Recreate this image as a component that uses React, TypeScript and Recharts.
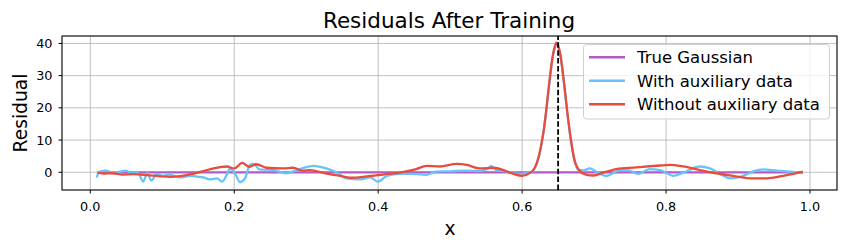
import { CartesianGrid, Line, LineChart, ReferenceLine, XAxis, YAxis } from 'recharts';

const xTicks = [0, 0.2, 0.4, 0.6, 0.8, 1.0];
const yTicks = [0, 10, 20, 30, 40];
const peakX = 0.65;

const trueX = [0.01, 0.99];
const trueY = [0, 0];

const withAuxX = [
  0.009, 0.012, 0.022, 0.03, 0.036, 0.043, 0.05, 0.057, 0.066, 0.0735, 0.079, 0.085, 0.092, 0.101, 0.11,
  0.125, 0.139, 0.15, 0.157, 0.166, 0.176, 0.183, 0.19, 0.194, 0.201, 0.208, 0.215, 0.222, 0.227, 0.235,
  0.254, 0.272, 0.291, 0.31, 0.328, 0.342, 0.356, 0.375, 0.389, 0.4, 0.412, 0.43, 0.45, 0.467, 0.48, 0.5,
  0.523, 0.54, 0.552, 0.557, 0.564, 0.578, 0.597, 0.61, 0.618, 0.623, 0.628, 0.633, 0.638, 0.643, 0.648,
  0.653, 0.658, 0.663, 0.668, 0.673, 0.678, 0.685, 0.694, 0.703, 0.717, 0.736, 0.748, 0.761, 0.777, 0.792,
  0.81, 0.824, 0.847, 0.861, 0.875, 0.889, 0.905, 0.921, 0.935, 0.954, 0.977, 0.99,
];
const withAuxY = [
  -1.6, 0.1, 0.5, 0.0, -0.1, 0.3, 0.5, -0.3, 0.0, -2.9, -0.3, -2.6, -0.5, -1.1, -0.7,
  -1.6, -1.1, -1.4, -1.6, -2.2, -1.9, -2.9, -0.6, 1.1, -0.3, -3.1, -1.9, 2.3, 2.6, 0.9,
  0.7, -0.3, 1.0, 2.0, 1.2, 0.0, -1.9, -2.2, -1.6, -2.9, -1.1, -0.5, -0.5, -0.8, 0.2, 0.3,
  0.5, 0.4, 1.0, 2.0, 0.7, 0.2, -0.5, -0.2, 1.4, 4.5, 10.0, 18.0, 28.0, 36.3, 39.6,
  36.3, 28.0, 18.0, 9.6, 3.5, 0.8, 0.6, 1.2, 0.2, -1.1, 0.7, 0.6, -0.5, 1.0, 0.7,
  -1.1, -0.1, 1.8, 1.2, -0.5, -1.9, -1.3, 0.3, 0.9, 0.5, 0.1, -0.3,
];

const withoutAuxX = [
  0.01, 0.02, 0.03, 0.045, 0.06, 0.08, 0.095, 0.111, 0.125, 0.14, 0.157, 0.17, 0.18, 0.19, 0.2,
  0.211, 0.221, 0.231, 0.245, 0.268, 0.282, 0.295, 0.305, 0.328, 0.347, 0.361, 0.384, 0.407, 0.43,
  0.453, 0.467, 0.486, 0.509, 0.523, 0.541, 0.56, 0.574, 0.588, 0.6, 0.611, 0.618, 0.623, 0.628,
  0.6305, 0.633, 0.6355, 0.638, 0.6405, 0.643, 0.6455, 0.648, 0.6505, 0.653, 0.6555, 0.658, 0.6605,
  0.663, 0.6655, 0.668, 0.673, 0.678, 0.684, 0.69, 0.699, 0.7125, 0.731, 0.759, 0.791, 0.805, 0.824,
  0.847, 0.87, 0.893, 0.921, 0.94, 0.963, 0.977, 0.99,
];
const withoutAuxY = [
  -0.1, -0.4, -0.3, -0.7, -0.6, -0.9, -1.2, -1.4, -1.2, -0.6, 0.4, 1.1, 1.6, 1.8, 1.2,
  2.9, 1.7, 2.5, 1.4, 1.2, 1.4, 0.5, 0.7, -0.4, -1.1, -1.7, -1.3, -0.7, -0.1,
  1.0, 2.0, 1.8, 2.6, 2.3, 1.2, 1.4, 0.7, -0.5, -1.1, -0.2, 1.6, 4.8, 10.3,
  13.8, 18.3, 23.3, 28.3, 32.9, 36.7, 39.1, 40.2, 39.1, 36.7, 32.9, 28.3, 23.3,
  18.3, 13.8, 9.8, 3.6, 1.0, -0.3, -0.8, -1.0, -0.1, 1.0, 1.5, 2.1, 2.3, 1.8,
  0.7, -0.3, -1.1, -1.9, -1.9, -1.1, -0.5, 0.2,
];

const toPoints = (xs: number[], ys: number[]) => xs.map((x, i) => ({ x, y: ys[i] }));

const series = [
  { name: 'True Gaussian', color: '#b35cc4', data: toPoints(trueX, trueY) },
  { name: 'With auxiliary data', color: '#66c4fb', data: toPoints(withAuxX, withAuxY) },
  { name: 'Without auxiliary data', color: '#e84c3d', data: toPoints(withoutAuxX, withoutAuxY) },
];

const font = '"DejaVu Sans", sans-serif';
const tickStyle = { fill: '#000', fontSize: 12.8, fontFamily: font, style: { fontSize: 12.8 } };

export default function App() {
  return (
    <div style={{ position: 'absolute', left: 0, top: 0, width: 847, height: 248, background: '#fff' }}>
      <LineChart width={847} height={248} margin={{ top: 36, right: 10, bottom: 0, left: 0 }}>
        <CartesianGrid stroke="#b0b0b0" strokeWidth={0.8} />
        <XAxis
          dataKey="x"
          type="number"
          domain={[-0.0393, 1.0375]}
          ticks={xTicks}
          tickFormatter={(v: number) => v.toFixed(1)}
          allowDataOverflow
          height={58}
          tickSize={3.5}
          tickMargin={8}
          tick={tickStyle}
          axisLine={false}
          tickLine={{ stroke: '#000' }}
        />
        <YAxis
          type="number"
          domain={[-5.5, 42.3]}
          ticks={yTicks}
          allowDataOverflow
          width={62}
          tickSize={3.5}
          tickMargin={6}
          tick={tickStyle}
          axisLine={false}
          tickLine={{ stroke: '#000' }}
        />
        {series.map((s) => (
          <Line
            key={s.name}
            data={s.data}
            dataKey="y"
            name={s.name}
            type="monotone"
            stroke={s.color}
            strokeWidth={2.3}
            dot={false}
            isAnimationActive={false}
          />
        ))}
        <ReferenceLine x={peakX} stroke="#000" strokeWidth={1.8} strokeDasharray="5.5 2.4" />
      </LineChart>
      <svg width={847} height={248} style={{ position: 'absolute', left: 0, top: 0, pointerEvents: 'none' }}>
        <rect x={62} y={36} width={775} height={154} fill="none" stroke="#000" strokeWidth={1} />
        <text x={449} y={28} textAnchor="middle" fontSize={21.5} fontFamily={font} fill="#000">
          Residuals After Training
        </text>
        <text x={450} y={235} textAnchor="middle" fontSize={18.7} fontFamily={font} fill="#000">
          x
        </text>
        <text
          x={26.5}
          y={113}
          textAnchor="middle"
          fontSize={18.7}
          fontFamily={font}
          fill="#000"
          transform="rotate(-90 26.5 113)"
        >
          Residual
        </text>
        <rect x={583.5} y={44.5} width={246} height={74.5} rx={3} fill="#fff" fillOpacity={0.8} stroke="#d0d0d0" />
        {series.map((s, i) => (
          <g key={s.name}>
            <line x1={589} x2={625} y1={57.3 + i * 23.5} y2={57.3 + i * 23.5} stroke={s.color} strokeWidth={2.5} />
            <text x={637} y={63.3 + i * 23.5} fontSize={16.5} fontFamily={font} fill="#000">
              {s.name}
            </text>
          </g>
        ))}
      </svg>
    </div>
  );
}
